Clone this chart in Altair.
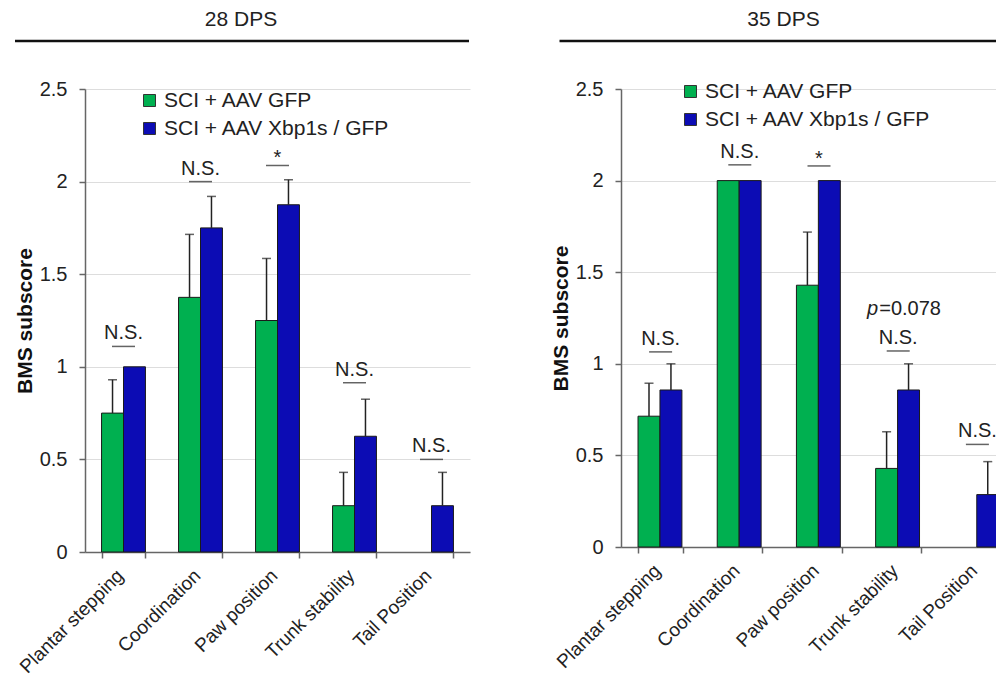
import altair as alt
import pandas as pd

categories = ["Plantar stepping", "Coordination", "Paw position", "Trunk stability", "Tail Position"]
groups = ["SCI + AAV GFP", "SCI + AAV Xbp1s / GFP"]
colors = ["#00B050", "#0C0CB4"]

# 28 DPS
d28_gfp = [0.75, 1.375, 1.25, 0.25, 0.0]
d28_gfp_err = [0.18, 0.34, 0.335, 0.18, 0.0]
d28_xbp = [1.0, 1.75, 1.875, 0.625, 0.25]
d28_xbp_err = [0.0, 0.17, 0.135, 0.2, 0.18]
d28_sig = ["N.S.", "N.S.", "*", "N.S.", "N.S."]
d28_sig_y = [1.11, 2.0, 2.087, 0.914, 0.5]

# 35 DPS
d35_gfp = [0.714, 2.0, 1.429, 0.429, 0.0]
d35_gfp_err = [0.18, 0.0, 0.29, 0.2, 0.0]
d35_xbp = [0.857, 2.0, 2.0, 0.857, 0.286]
d35_xbp_err = [0.143, 0.0, 0.0, 0.143, 0.18]
d35_sig = ["N.S.", "N.S.", "*", "N.S.", "N.S."]
d35_sig_y = [1.065, 2.086, 2.08, 1.07, 0.56]
d35_pnote_cat = ["Trunk stability"]
d35_pnote_val = ["=0.078"]

y_ticks = [0, 0.5, 1, 1.5, 2, 2.5]
FONT = "Liberation Sans"


def panel(gfp, gfp_err, xbp, xbp_err, sig, sig_y, title, w, h, lx, ly, hx, rx1, rx2, pnote=None):
    rows = []
    for i, c in enumerate(categories):
        rows.append({"category": c, "group": groups[0], "value": gfp[i], "err": gfp_err[i], "top": gfp[i] + gfp_err[i]})
        rows.append({"category": c, "group": groups[1], "value": xbp[i], "err": xbp_err[i], "top": xbp[i] + xbp_err[i]})
    df = pd.DataFrame(rows)
    sdf = pd.DataFrame({"category": categories, "label": sig, "level": sig_y})

    xs = alt.Scale(paddingInner=0.43, paddingOuter=0.215)
    xaxis = alt.Axis(title=None, labelAngle=-45, tickBand="extent", labelPadding=8, tickSize=6,
                     labelFontSize=19, labelOffset=-10)
    x = alt.X("category:N", sort=categories, scale=xs, axis=xaxis)
    xo = alt.XOffset("group:N", sort=groups)
    ys = alt.Scale(domain=[0, 2.5], nice=False)
    yaxis = alt.Axis(title="BMS subscore", values=y_ticks, format="~g", labelPadding=12, tickSize=6,
                     titlePadding=4, labelFontSize=20)

    def Y(field):
        return alt.Y(field, scale=ys, axis=yaxis)

    color = alt.Color(
        "group:N", sort=groups, scale=alt.Scale(domain=groups, range=colors),
        legend=alt.Legend(title=None, orient="none", legendX=lx, legendY=ly, symbolType="square",
                          symbolSize=144, symbolStrokeColor="#333", symbolStrokeWidth=1,
                          labelFontSize=21, labelFont=FONT, labelColor="#222", labelOffset=4,
                          labelLimit=0, rowPadding=6, padding=0, symbolOpacity=1),
    )
    base = alt.Chart(df)
    bars = base.transform_filter("datum.value > 0").mark_bar(stroke="#1a1a1a", strokeWidth=1).encode(
        x=x, xOffset=xo, y=Y("value:Q"), color=color)
    errs = base.transform_filter("datum.err > 0").mark_rule(color="#222", strokeWidth=1.5).encode(
        x=x, xOffset=xo, y=Y("value:Q"), y2="top:Q")
    caps = base.transform_filter("datum.err > 0").mark_tick(color="#222", thickness=1.5, size=9).encode(
        x=x, xOffset=xo, y=Y("top:Q"))
    sbase = alt.Chart(sdf)
    lines = sbase.mark_tick(color="#222", thickness=1.5, size=23).encode(x=x, y=Y("level:Q"))
    ns = sbase.transform_filter("datum.label == 'N.S.'").mark_text(
        fontSize=20, font=FONT, color="#222", baseline="alphabetic", dy=-7).encode(x=x, y=Y("level:Q"), text="label:N")
    star = sbase.transform_filter("datum.label == '*'").mark_text(
        fontSize=20, font=FONT, color="#222", baseline="alphabetic", dy=-1).encode(x=x, y=Y("level:Q"), text="label:N")
    hdf = pd.DataFrame({"t": [title]})
    htext = alt.Chart(hdf).mark_text(fontSize=21, font=FONT, color="#222", baseline="middle").encode(
        x=alt.value(hx), y=alt.value(-69), text="t:N")
    hrule = alt.Chart(hdf).mark_rule(color="#111", strokeWidth=2.5).encode(
        x=alt.value(rx1), x2=alt.value(rx2), y=alt.value(-48))
    layers = [bars, errs, caps, lines, ns, star, htext, hrule]
    if pnote is not None:
        pdf = pd.DataFrame({"category": d35_pnote_cat, "val": d35_pnote_val,
                            "level": [sig_y[categories.index(d35_pnote_cat[0])]]})
        pb = alt.Chart(pdf)
        p1 = pb.mark_text(fontSize=20, font=FONT, color="#222", fontStyle="italic", align="right",
                          baseline="alphabetic", dx=-20, dy=-36).encode(x=x, y=Y("level:Q"), text=alt.value("p"))
        p2 = pb.mark_text(fontSize=20, font=FONT, color="#222", align="left",
                          baseline="alphabetic", dx=-19, dy=-36).encode(x=x, y=Y("level:Q"), text="val:N")
        layers += [p1, p2]
    return alt.layer(*layers).properties(width=w, height=h)


left = panel(d28_gfp, d28_gfp_err, d28_xbp, d28_xbp_err, d28_sig, d28_sig_y, "28 DPS",
             385, 463, 54, 1, 156, -70, 384)
right = panel(d35_gfp, d35_gfp_err, d35_xbp, d35_xbp_err, d35_sig, d35_sig_y, "35 DPS",
              396, 458, 59, -8, 162.5, -61.5, 392.5, pnote=True)

chart = alt.hconcat(left, right, spacing=79).resolve_scale(color="independent").properties(
    padding={"left": 5, "top": 1, "right": -21, "bottom": 0}
).configure_view(stroke=None).configure_axis(
    labelFont=FONT, labelColor="#222", domainColor="#666", domainWidth=1.5,
    tickColor="#666", tickWidth=1.5, titleFont=FONT, titleFontSize=21, titleFontWeight="bold", titleColor="#111"
)

chart.save("out.html", embed_options={"renderer": "svg", "actions": False})
